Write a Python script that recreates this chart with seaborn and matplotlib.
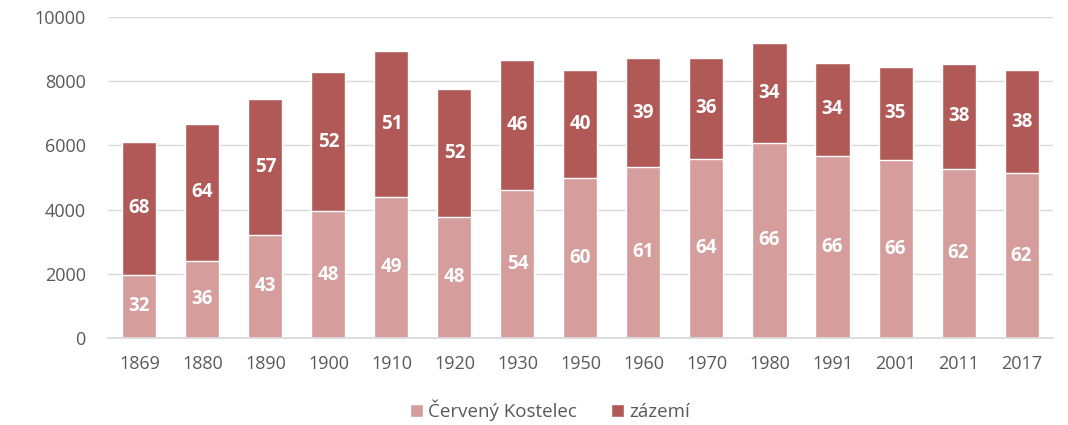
import matplotlib
matplotlib.use("Agg")
import matplotlib.pyplot as plt
import seaborn as sns
import pandas as pd

# hodnoty
roky = ['1869', '1880', '1890', '1900', '1910', '1920', '1930', '1950',
        '1960', '1970', '1980', '1991', '2001', '2011', '2017']
kostelec = [1970, 2406, 3206, 3941, 4398, 3776, 4616, 4968,
            5322, 5580, 6079, 5674, 5549, 5269, 5123]
celkem = [6119, 6660, 7457, 8279, 8952, 7769, 8652, 8341,
          8724, 8724, 9191, 8578, 8453, 8537, 8341]
pct_kostelec = [32, 36, 43, 48, 49, 48, 54, 60, 61, 64, 66, 66, 66, 62, 62]
pct_zazemi = [68, 64, 57, 52, 51, 52, 46, 40, 39, 36, 34, 34, 35, 38, 38]

light = '#D59D9C'
dark = '#B05957'

df = pd.DataFrame({'rok': roky, 'kostelec': kostelec, 'celkem': celkem})

sns.set_theme(style='white')
plt.rcParams['font.family'] = ['Open Sans', 'DejaVu Sans']

fig, ax = plt.subplots(figsize=(10.68, 4.25), dpi=100)
fig.subplots_adjust(left=0.101, right=0.986, top=0.96, bottom=0.205)

# celková výška = zázemí nahoře, Červený Kostelec přes ni
sns.barplot(data=df, x='rok', y='celkem', color=dark, width=0.54,
            saturation=1, ax=ax, label='zázemí')
sns.barplot(data=df, x='rok', y='kostelec', color=light, width=0.54,
            saturation=1, ax=ax, label='Červený Kostelec')
if ax.get_legend() is not None:
    ax.get_legend().remove()

top_bars = ax.containers[0]
low_bars = ax.containers[1]

for bar, p, low in zip(top_bars, pct_zazemi, kostelec):
    y = (low + bar.get_height()) / 2
    ax.text(bar.get_x() + bar.get_width() / 2, y, str(p), ha='center',
            va='center', color='white', fontsize=13.5, fontweight='bold')
for bar, p in zip(low_bars, pct_kostelec):
    ax.text(bar.get_x() + bar.get_width() / 2, bar.get_height() / 2, str(p),
            ha='center', va='center', color='white', fontsize=13.5,
            fontweight='bold')

ax.set_ylim(0, 10000)
ax.set_yticks(range(0, 10001, 2000))
ax.set_xlabel('')
ax.set_ylabel('')
ax.grid(axis='y', color='#D9D9D9', linewidth=1)
ax.set_axisbelow(True)
for s in ['top', 'right', 'left']:
    ax.spines[s].set_visible(False)
ax.spines['bottom'].set_color('#D9D9D9')
ax.tick_params(axis='both', colors='#595959', labelsize=13, length=0)
ax.tick_params(axis='x', pad=12)
ax.tick_params(axis='y', pad=16)

handles, labels = ax.get_legend_handles_labels()
order = [labels.index('Červený Kostelec'), labels.index('zázemí')]
fig.legend([handles[i] for i in order], [labels[i] for i in order],
           loc='center', bbox_to_anchor=(550 / 1068, 1 - 410 / 425), ncol=2,
           frameon=False, fontsize=13.5, handlelength=0.7, handleheight=0.7,
           handletextpad=0.3, columnspacing=1.8, labelcolor='#595959')

plt.savefig('out.png', dpi=100)
plt.close()
